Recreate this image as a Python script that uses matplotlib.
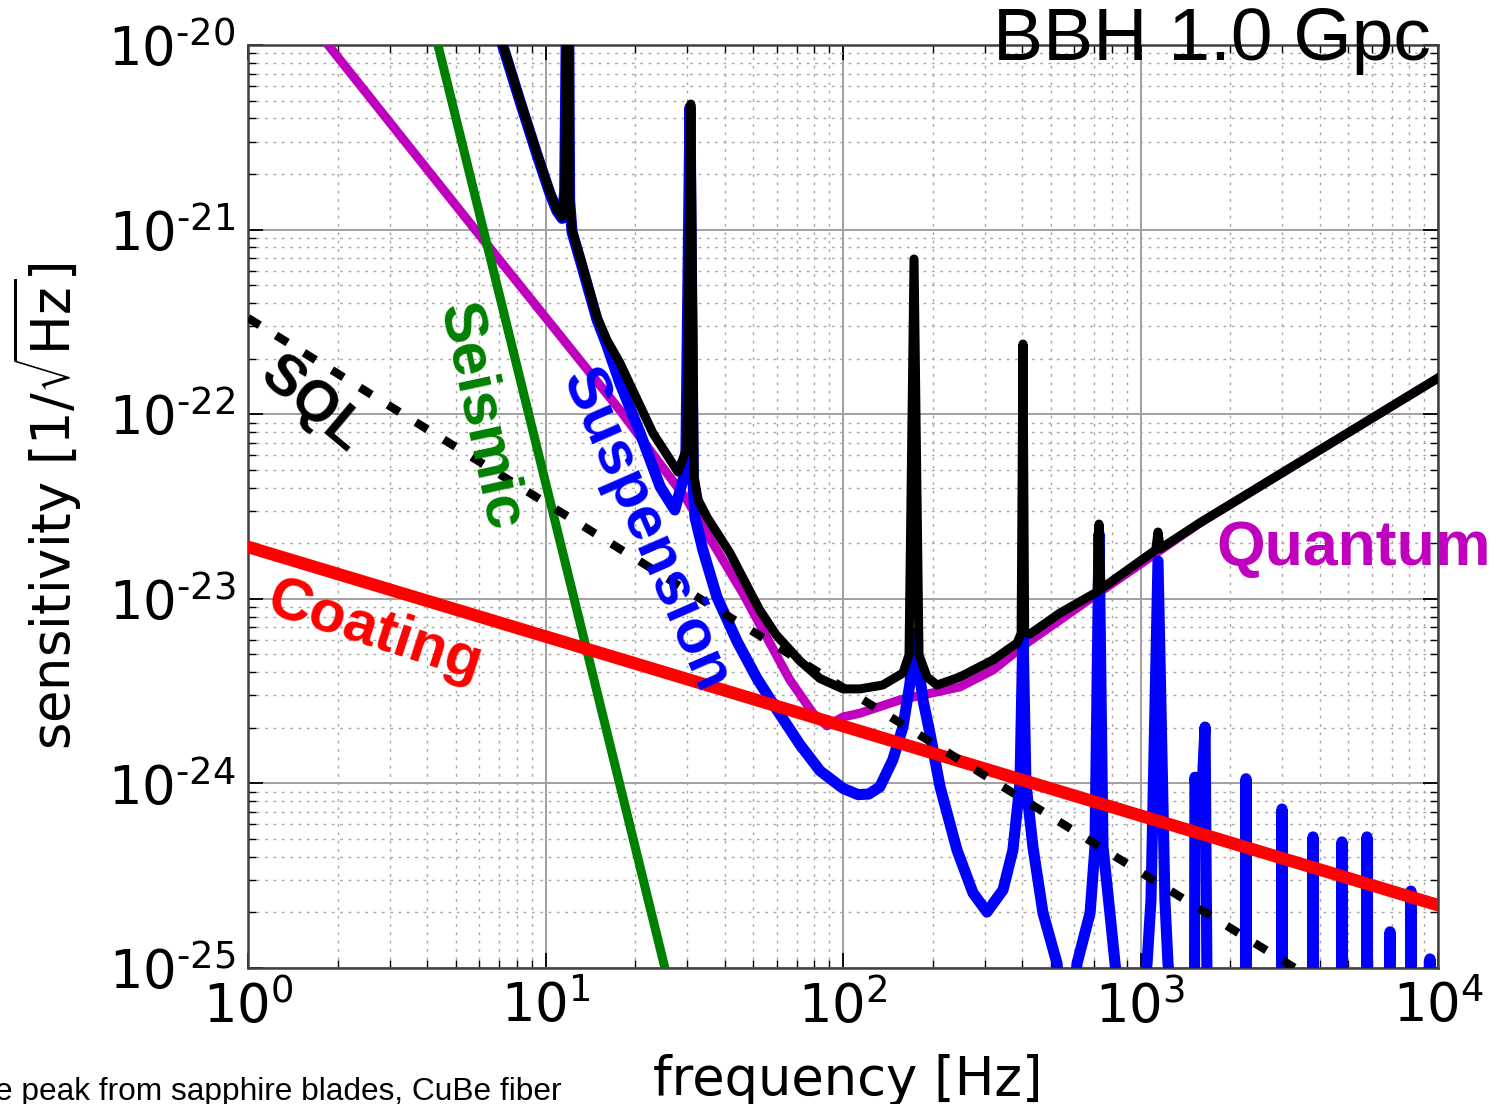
import numpy as np
import matplotlib
matplotlib.use('Agg')
import matplotlib.pyplot as plt
from matplotlib.ticker import LogLocator, NullFormatter, FuncFormatter

plt.rcParams['mathtext.fontset'] = 'dejavusans'
plt.rcParams['axes.unicode_minus'] = False

# noise curves: frequency [Hz] and strain [1/rtHz]
quantum_f = [1.5, 1.86, 5.8, 17.8, 29.9, 46.1, 66.3, 79.3, 88.3, 100, 114, 155, 247, 319, 415, 536, 731, 1585, 10000]
quantum_h = [1.54e-20, 1.0e-20, 1.0e-21, 1.05e-22, 3.43e-23, 1.07e-23, 3.63e-24, 2.40e-24, 2.05e-24, 2.29e-24,
             2.40e-24, 2.83e-24, 3.33e-24, 4.11e-24, 5.76e-24, 7.68e-24, 1.09e-23, 2.58e-23, 1.57e-22]

seismic_f = [4.35, 25.2]
seismic_h = [1.0e-20, 1.0e-25]

coating_f = [1, 10000]
coating_h = [1.91e-23, 2.19e-25]

sql_f = [1, 10000]
sql_h = [3.32e-22, 3.3e-26]

susp_f = [6.5, 7.2, 8.21, 9.36, 10.35, 10.93, 11.37, 11.6, 11.9, 12.05, 12.28, 13.06, 14.9, 16.1, 17.8, 20.8,
          24.3, 27.2, 29.6, 30.6, 31.4, 31.8, 33.8, 37.7, 44.0, 51.4, 60.0, 71.7, 83.7, 100, 112.3, 122, 133, 147,
          159, 168, 173.3, 185.7, 196,
          212, 241.6, 273.5, 304.8, 345, 372.5, 393.5, 402.7, 412, 435, 470, 524, 566, 612, 677, 703, 725.4, 748,
          789, 821, 922, 1052, 1084.5, 1145, 1208, 1237, 1358,
          1515, 1524, 1580, 1648, 1690,
          2250, 2263, 2276, 2975, 2990, 3005, 3782, 3801, 3820, 4730, 4754, 4778,
          5741, 5770, 5799, 6866, 6900, 6934, 8070, 8111, 8152, 9351, 9398, 9445, 10000]
susp_h = [1.6e-20, 9.8e-21, 4.95e-21, 2.55e-21, 1.57e-21, 1.26e-21, 1.15e-21, 1.6e-21, 1e-19, 1.45e-21, 9.7e-22,
          6.9e-22, 3.25e-22, 2.35e-22, 1.47e-22, 7.9e-23,
          4.04e-23, 3.03e-23, 5.0e-23, 4.6e-21, 4.0e-23, 2.77e-23, 1.84e-23, 1.02e-23, 5.9e-24, 3.7e-24, 2.5e-24,
          1.62e-24, 1.17e-24, 9.4e-25, 8.7e-25, 8.75e-25, 9.57e-25, 1.34e-24,
          2.02e-24, 3.50e-24, 6.5e-24, 2.83e-24, 1.87e-24,
          9.57e-25, 4.36e-25, 2.55e-25, 2.01e-25, 2.65e-25, 4.36e-25, 1.0e-24, 6.8e-24, 1.0e-24, 4.52e-25, 1.99e-25,
          1.06e-25, 3e-26, 1.06e-25, 1.99e-25, 4.52e-25, 2.25e-23, 4.52e-25,
          1.99e-25, 1.06e-25, 2e-26, 1.06e-25, 2.33e-25, 1.60e-23, 2.33e-25, 1.06e-25, 2e-26,
          1e-26, 1.08e-24, 5e-25, 2.02e-24, 1e-26,
          1e-26, 1.06e-24, 1e-26, 1e-26, 7.26e-25, 1e-26, 1e-26, 5.13e-25, 1e-26, 1e-26, 4.82e-25, 1e-26,
          1e-26, 5.13e-25, 1e-26, 1e-26, 1.57e-25, 1e-26, 1e-26, 2.61e-25, 1e-26, 1e-26, 1.12e-25, 1e-26, 1e-26]

total_f = [6.5, 7.2, 8.21, 9.36, 10.35, 10.93, 11.37, 11.6, 11.9, 12.05, 12.28, 13.06, 14.9, 16.1, 17.8, 22.96,
           27.9, 29.8, 30.8, 31.6, 32.6, 34.9, 41.7, 49.8, 52.5, 59.5, 71.7, 83.7, 100, 114, 136, 159, 166.7, 173.3,
           180.1, 191.6, 207, 247, 319, 384.6, 397, 402.7, 408, 425, 536, 715, 725.4, 736, 1125, 1145, 1165, 1585,
           10000]
total_h = [1.65e-20, 1.0e-20, 5.03e-21, 2.6e-21, 1.6e-21, 1.28e-21, 1.17e-21, 1.6e-21, 1e-19, 1.5e-21, 9.96e-22,
           7.11e-22, 3.36e-22, 2.52e-22, 1.89e-22, 7.9e-23,
           4.86e-23, 6.5e-23, 4.79e-21, 4.6e-23, 3.43e-23, 2.77e-23, 1.77e-23, 1.02e-23, 8.7e-24, 6.4e-24,
           4.6e-24, 3.7e-24, 3.25e-24, 3.25e-24, 3.41e-24, 3.96e-24, 4.97e-24, 6.93e-22, 4.97e-24, 3.77e-24,
           3.41e-24, 3.77e-24, 4.66e-24, 5.76e-24, 6.5e-24, 2.4e-22, 6.6e-24, 6.44e-24, 8.37e-24, 1.09e-23, 2.54e-23,
           1.13e-23, 1.84e-23, 2.30e-23, 1.87e-23, 2.58e-23, 1.57e-22]

fig = plt.figure(figsize=(14.97, 11.04), dpi=100)
ax = fig.add_axes([248 / 1497, 1 - 968 / 1104, (1438 - 248) / 1497, (968 - 45) / 1104])

ax.plot(quantum_f, quantum_h, color='#bf00bf', lw=6.5, zorder=3)
ax.plot(seismic_f, seismic_h, color='#008000', lw=6.5, zorder=4)
ax.plot(susp_f, susp_h, color='#0000ff', lw=8, zorder=5)
ax.plot(coating_f, coating_h, color='#ff0000', lw=9, zorder=6)
ax.plot(total_f, total_h, color='k', lw=6.5, zorder=7)
ax.plot(sql_f, sql_h, color='k', lw=6, ls=(0, (1.65, 2.3)), zorder=8)

ax.set_xscale('log')
ax.set_yscale('log')
ax.set_xlim(1, 1e4)
ax.set_ylim(1e-25, 1e-20)


def decade_label(v, pos):
    e = int(round(np.log10(v)))
    if e < 0:
        return r'$10^{\text{-}%d}$' % (-e)
    return r'$10^{%d}$' % e


for axis in (ax.xaxis, ax.yaxis):
    axis.set_major_locator(LogLocator(base=10, numticks=12))
    axis.set_minor_locator(LogLocator(base=10, subs=np.arange(2, 10), numticks=12))
    axis.set_major_formatter(FuncFormatter(decade_label))
    axis.set_minor_formatter(NullFormatter())

ax.tick_params(which='both', direction='in', top=True, right=True, labelsize=38)
ax.tick_params(which='major', length=11, width=1.3, pad=9)
ax.tick_params(which='minor', length=6, width=1.0)
for s in ax.spines.values():
    s.set_linewidth(1.8)
    s.set_color('0.25')

ax.set_axisbelow(True)
ax.grid(True, which='major', color='#a0a0a0', ls='-', lw=1.4)
ax.grid(True, which='minor', color='#a8a8a8', ls=(0, (2, 4)), lw=1.0)

bold = dict(family='Liberation Sans', weight='bold', ha='center', va='center')
ax.text(1.64, 1.12e-22, 'SQL', color='k', fontsize=41, rotation=-40, zorder=10, **bold)
ax.text(6.0, 9.77e-23, 'Seismic', color='#008000', fontsize=44, rotation=-77.7, zorder=10, **bold)
ax.text(21.6, 2.36e-23, 'Suspension', color='#0000ff', fontsize=44, rotation=-66.4, zorder=10, **bold)
ax.text(2.67, 6.6e-24, 'Coating', color='#ff0000', fontsize=43, rotation=-18, zorder=10, **bold)
ax.text(5200, 1.52e-23, 'Quantum', color='#bf00bf', fontsize=45, family='Liberation Sans', weight='bold',
        ha='center', va='baseline', zorder=10, clip_on=False)

fig.text(848 / 1497, 1 - 1095 / 1104, 'frequency [Hz]', fontsize=38, ha='center', va='baseline')
fig.text(47 / 1497, 1 - 506 / 1104, r'sensitivity [1/$\sqrt{\rm Hz}$]', fontsize=38, rotation=90,
         ha='center', va='center')

fig.text(1431 / 1497, 1 - 60 / 1104, 'BBH 1.0 Gpc', fontsize=54, family='Liberation Sans',
         ha='right', va='baseline', zorder=20)
fig.text(-5 / 1497, 1 - 1100 / 1104, 'e peak from sapphire blades, CuBe fiber', fontsize=22.8,
         family='Liberation Sans', ha='left', va='baseline')

fig.savefig('out.png', dpi=100)
